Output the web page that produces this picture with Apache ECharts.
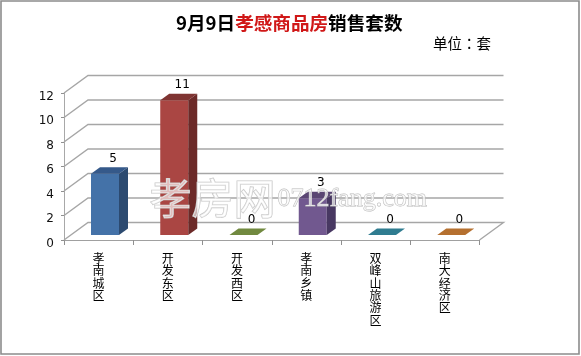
<!DOCTYPE html>
<html><head><meta charset="utf-8">
<style>html,body{margin:0;padding:0;background:#fff}#c{width:581px;height:356px}</style>
<script src="https://cdn.jsdelivr.net/npm/echarts@6/dist/echarts.min.js"></script>
</head><body><div id="c"></div>
<script>
const categories = ['孝南城区','开发东区','开发西区','孝南乡镇','双峰山旅游区','南大经济区'];
const values = [5, 11, 0, 3, 0, 0];
const yTicks = [0, 2, 4, 6, 8, 10, 12];
const frontColors = ['#4472A8','#AA4643','#71893F','#71588F','#2F7C90','#B5702F'];
const sideColors  = ['#2C4A70','#6C2A28','#4F602C','#483862','#205664','#7C4D20'];
const topColors   = ['#35598A','#7F3432','#71893F','#5A4673','#2F7C90','#B5702F'];

const DEPTH_X = 24, DEPTH_Y = 17.5;      // wall depth
const BAR_W = 28, BAR_DX = 27, BAR_DY = 5; // bar placement
const SIDE_X = 9, SIDE_Y = 6.5;

const chart = echarts.init(document.getElementById('c'), null, {renderer:'canvas'});
const cjk = '"Noto Sans CJK SC","Noto Sans",sans-serif';

chart.setOption({
  animation:false,
  backgroundColor:'#fff',
  title:{
    left:171, top:9,
    text:'{b|9月9日}{r|孝感商品房}{b|销售套数}',
    textStyle:{rich:{
      b:{fontFamily:cjk,fontSize:18.6,fontWeight:'bold',color:'#000'},
      r:{fontFamily:cjk,fontSize:18.6,fontWeight:'bold',color:'#d01818'}
    }}
  },
  grid:{left:64,top:93,width:415.5,height:147},
  xAxis:{
    type:'category',data:categories,
    axisLine:{lineStyle:{color:'#a0a0a0',width:1}},
    axisTick:{show:true,alignWithLabel:false,length:5,lineStyle:{color:'#909090'}},
    axisLabel:{interval:0,margin:12,color:'#000',fontFamily:cjk,fontSize:12,lineHeight:12.4,verticalAlign:'top',
      formatter:s=>s.split('').join('\n')}
  },
  yAxis:{
    type:'value',min:0,max:12,interval:2,
    splitLine:{show:false},
    axisLine:{show:true,lineStyle:{color:'#a8a8a8',width:1}},
    axisTick:{show:true,length:3,lineStyle:{color:'#909090'}},
    axisLabel:{margin:10,color:'#111',fontFamily:'"DejaVu Sans",sans-serif',fontSize:12,verticalAlign:'top',lineHeight:7}
  },
  series:[
    {
      type:'custom',silent:true,clip:false,z:1,
      data:yTicks.map(v=>[0,v]),
      encode:{x:0,y:1},
      renderItem(params,api){
        const cs=params.coordSys, y=api.coord([0,api.value(1)])[1];
        const x0=cs.x, x1=cs.x+cs.width;
        const pts=[[x0,y],[x0+DEPTH_X,y-DEPTH_Y],[x1+DEPTH_X,y-DEPTH_Y]];
        if(api.value(1)===0) pts.push([x1,y]);
        return {type:'polyline',shape:{points:pts},style:{fill:null,stroke:'#a6a6a6',lineWidth:1.4}};
      }
    },
    {
      type:'custom',silent:true,clip:false,z:3,
      data:values.map((v,i)=>[i,v]),
      encode:{x:0,y:1},
      renderItem(params,api){
        const i=api.value(0), v=api.value(1);
        const band=api.size([1,0])[0];
        const base=api.coord([i,0]), tip=api.coord([i,v]);
        const l=base[0]-band/2+BAR_DX, r=l+BAR_W;
        const b=base[1]-BAR_DY, t=tip[1]-BAR_DY;
        const kids=[];
        if(v>0){
          kids.push({type:'rect',shape:{x:l,y:t,width:BAR_W,height:b-t},style:{fill:frontColors[i]}});
          kids.push({type:'polygon',shape:{points:[[r,t],[r+SIDE_X,t-SIDE_Y],[r+SIDE_X,b-SIDE_Y],[r,b]]},style:{fill:sideColors[i]}});
        }
        kids.push({type:'polygon',shape:{points:[[l,t],[r,t],[r+SIDE_X,t-SIDE_Y],[l+SIDE_X,t-SIDE_Y]]},style:{fill:topColors[i]}});
        kids.push({type:'text',style:{x:l+22,y:t-15,text:String(v),fill:'#000',align:'center',verticalAlign:'middle',
          font:'12px "DejaVu Sans",sans-serif'}});
        return {type:'group',children:kids};
      }
    }
  ],
  graphic:[
    {type:'rect',z:0,silent:true,shape:{x:1,y:1,width:578,height:353},style:{fill:null,stroke:'#8c8c8c',lineWidth:1.6}},
    {type:'text',left:433,top:36,z:10,style:{text:'单位：套',fill:'#000',font:'14.5px "Noto Sans CJK TC","Noto Sans CJK SC",sans-serif'}},
    {type:'text',left:149,top:176,z:20,silent:true,style:{text:'孝房网',fill:'rgba(255,255,255,0.65)',stroke:'#c6c6c6',lineWidth:1.2,font:'42px '+cjk}},
    {type:'text',left:277,top:186,z:20,silent:true,style:{text:'0712fang.com',fill:'rgba(255,255,255,0.7)',stroke:'#b8b8b8',lineWidth:0.9,font:'26px "Liberation Serif",serif'}}
  ]
});
</script></body></html>
